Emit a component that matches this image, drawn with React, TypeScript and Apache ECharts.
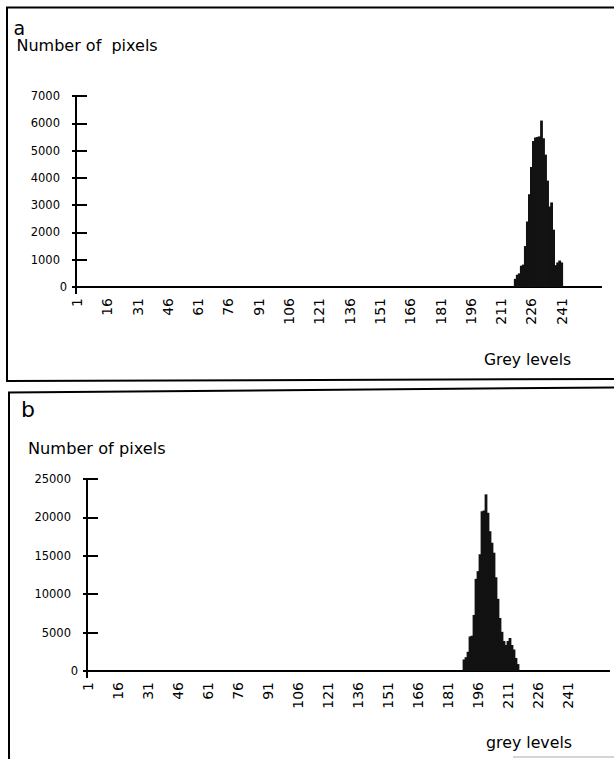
import React, { useEffect, useRef } from 'react';
import * as echarts from 'echarts';

// Grey levels 1..256 (category axis)
const greyLevels: string[] = Array.from({ length: 256 }, (_, i) => String(i + 1));

// Panel a: histogram counts, starting at grey level 218
const panelAStart = 218;
const panelACounts = [300, 450, 500, 780, 820, 1500, 2400, 3400, 4400, 5350, 5480, 5500, 5520, 6100, 5450, 4850, 3900, 2950, 3100, 2100, 800, 900, 970, 900];

// Panel b: histogram counts, starting at grey level 189
const panelBStart = 189;
const panelBCounts = [1500, 1800, 2500, 4500, 4600, 7300, 12000, 13000, 15200, 20800, 20900, 23000, 20600, 18200, 16700, 15400, 12200, 9400, 6900, 5100, 3900, 3400, 3900, 4300, 3400, 2800, 1700, 900];

const panelAYMax = 7000;
const panelAYInterval = 1000;
const panelBYMax = 25000;
const panelBYInterval = 5000;

const FONT = 'DejaVu Sans';

function fullSeries(start: number, counts: number[]): number[] {
  return greyLevels.map((_, i) => {
    const j = i + 1 - start;
    return j >= 0 && j < counts.length ? counts[j] : 0;
  });
}

function buildOption(): any {
  const grids = [
    { left: 76, top: 96, width: 517, height: 191 },
    { left: 87, top: 479, width: 512, height: 192 },
  ];
  const yMax = [panelAYMax, panelBYMax];
  const yInt = [panelAYInterval, panelBYInterval];
  const xAxis = [0, 1].map((g) => ({
    type: 'category',
    gridIndex: g,
    data: greyLevels,
    boundaryGap: true,
    axisLine: { show: true, lineStyle: { color: '#000', width: 2 } },
    axisTick: { show: false },
    splitLine: { show: false },
    axisLabel: {
      rotate: 90,
      interval: (i: number) => i % 15 === 0 && i <= 240,
      margin: 11,
      fontSize: 14,
      fontFamily: FONT,
      color: '#000',
    },
  }));
  const yAxis: any[] = [];
  [0, 1].forEach((g) => {
    yAxis.push({
      type: 'value',
      gridIndex: g,
      position: 'left',
      min: 0,
      max: yMax[g],
      interval: yInt[g],
      axisLine: { show: true, lineStyle: { color: '#000', width: 2 } },
      axisTick: { show: true, inside: true, length: 11, lineStyle: { color: '#000', width: 2 } },
      splitLine: { show: false },
      axisLabel: {
        margin: 9,
        fontSize: 11.5,
        fontFamily: FONT,
        color: '#000',
        formatter: (v: number) => (v === 0 ? '{z|0}' : '{n|' + v + '}'),
        rich: {
          z: { fontSize: 11.5, fontFamily: FONT, color: '#000' },
          n: { fontSize: 11.5, fontFamily: FONT, color: '#000', padding: [0, 7, 0, 0] },
        },
      },
    });
    yAxis.push({
      type: 'value',
      gridIndex: g,
      position: 'left',
      min: 0,
      max: yMax[g],
      interval: yInt[g],
      axisLine: { show: false },
      axisTick: { show: true, inside: false, length: 4, lineStyle: { color: '#000', width: 2 } },
      splitLine: { show: false },
      axisLabel: { show: false },
    });
  });
  const series = [
    {
      type: 'bar',
      xAxisIndex: 0,
      yAxisIndex: 0,
      data: fullSeries(panelAStart, panelACounts),
      barWidth: 2.8,
      barGap: '-100%',
      itemStyle: { color: '#121212' },
      silent: true,
    },
    {
      type: 'bar',
      xAxisIndex: 1,
      yAxisIndex: 2,
      data: fullSeries(panelBStart, panelBCounts),
      barWidth: 2.8,
      barGap: '-100%',
      itemStyle: { color: '#121212' },
      silent: true,
    },
  ];
  const line = (x1: number, y1: number, x2: number, y2: number, w = 2, c = '#000') => ({
    type: 'line',
    shape: { x1, y1, x2, y2 },
    style: { stroke: c, lineWidth: w },
    silent: true,
  });
  const text = (t: string, x: number, y: number, size: number, lh?: number) => ({
    type: 'text',
    x,
    y,
    style: {
      text: t,
      fontSize: size,
      fontFamily: FONT,
      fill: '#000',
      align: 'left',
      verticalAlign: 'middle',
      ...(lh ? { lineHeight: lh } : {}),
    },
    silent: true,
  });
  const graphic = [
    // panel a frame
    line(7, 7.5, 7, 381),
    line(6, 7.5, 614, 7.5),
    line(6, 381, 614, 379),
    // panel b frame
    line(9, 392.5, 9, 759),
    line(8, 392.5, 614, 387.5),
    line(513, 757, 614, 757, 1, '#aaa'),
    // axis extensions
    line(592, 287, 602, 287),
    line(598, 671, 610, 671),
    line(76, 287, 76, 294),
    line(87, 671, 87, 678),
    // texts
    text('a', 13.5, 27.5, 19, 12),
    text('Number of  pixels', 16.5, 45.5, 16, 14),
    text('Grey levels', 484, 360, 15.6),
    text('b', 21, 409.5, 22, 16),
    text('Number of pixels', 28, 448, 16.2),
    text('grey levels', 486, 742, 15.8),
  ];
  return {
    animation: false,
    backgroundColor: '#fff',
    grid: grids,
    xAxis,
    yAxis,
    series,
    graphic,
  };
}

export default function App() {
  const ref = useRef<HTMLDivElement>(null);
  useEffect(() => {
    document.body.style.margin = '0';
    if (!ref.current) return;
    const chart = echarts.init(ref.current, undefined, { renderer: 'svg' });
    chart.setOption(buildOption());
    return () => chart.dispose();
  }, []);
  return <div ref={ref} style={{ width: 614, height: 759, background: '#fff' }} />;
}
